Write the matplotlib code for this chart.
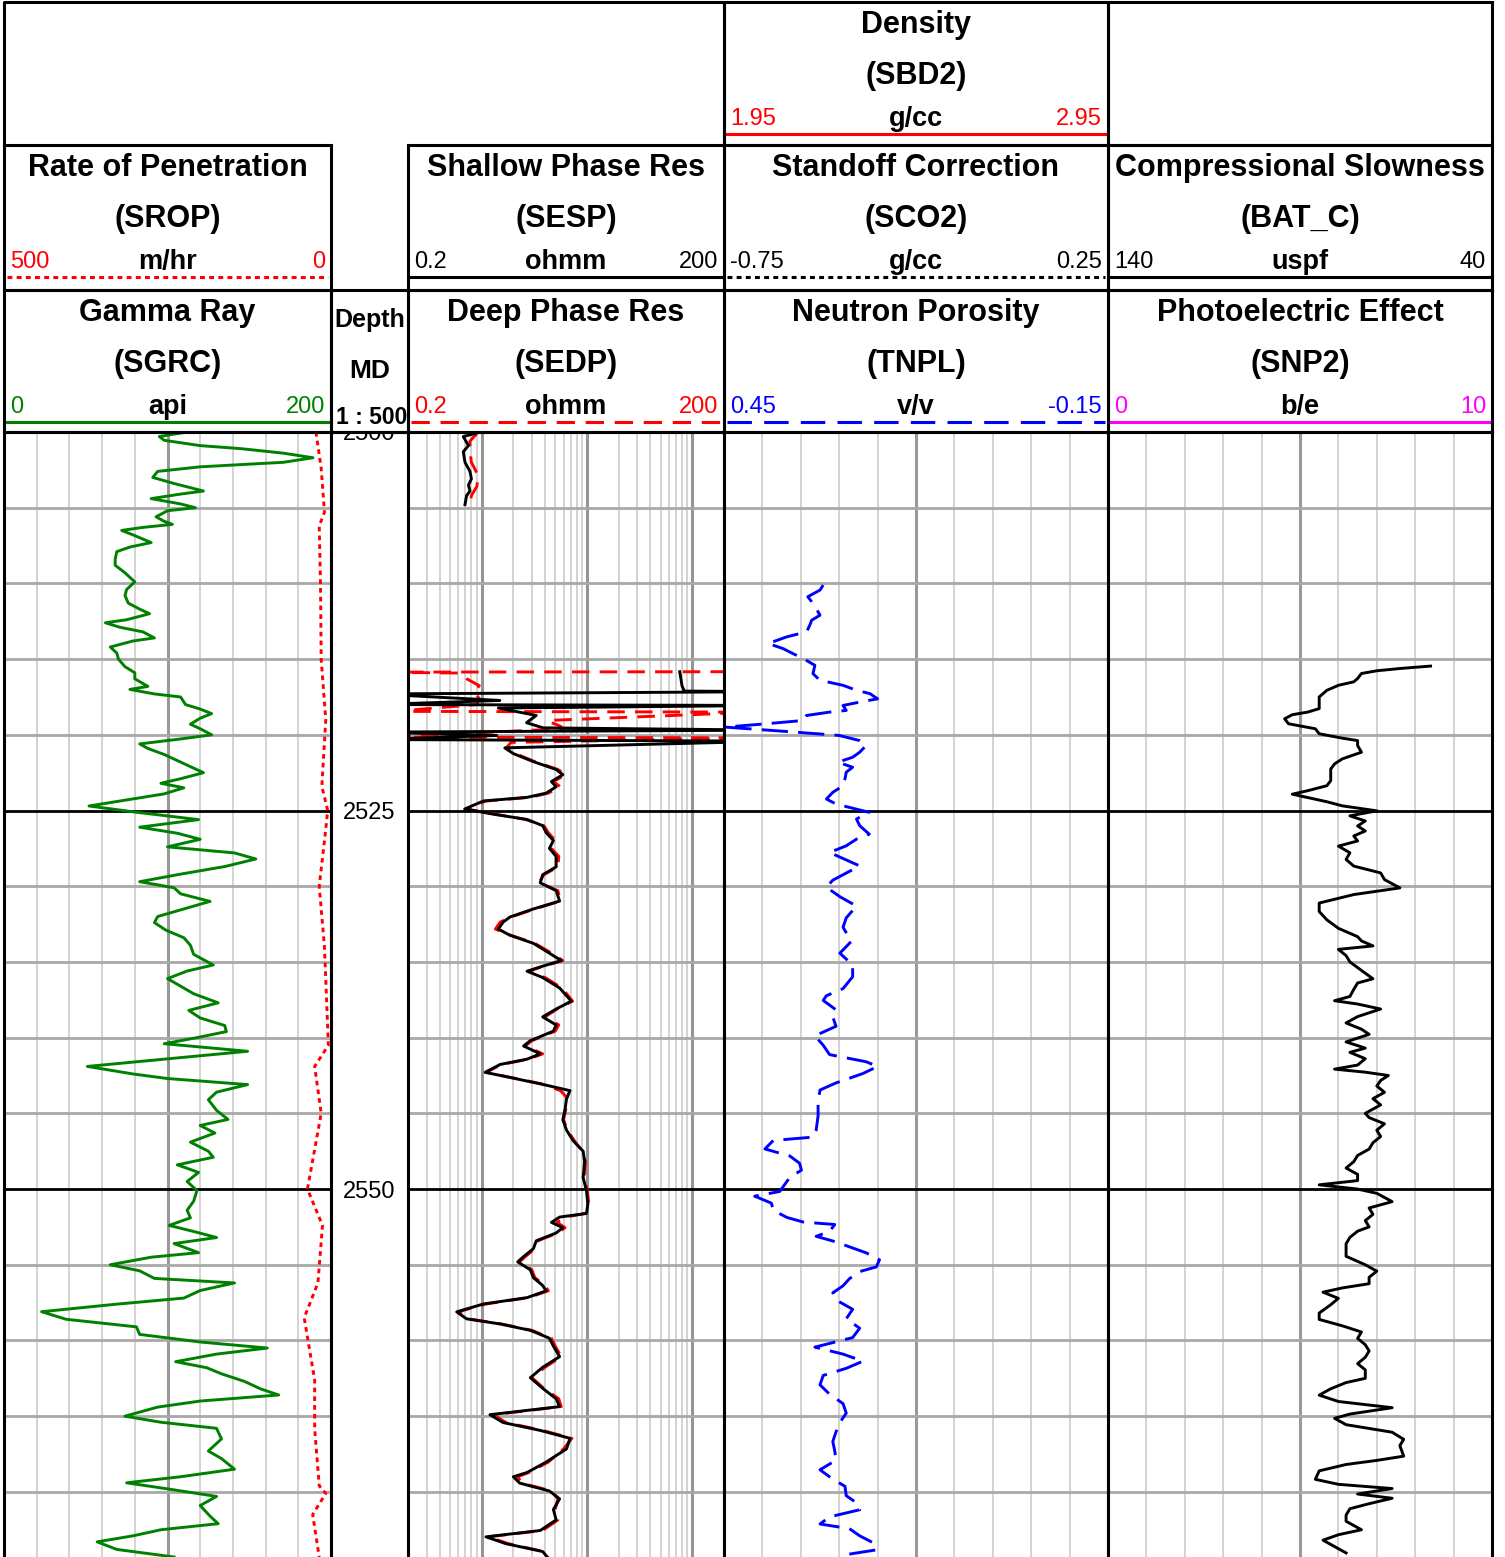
import matplotlib.pyplot as plt
from matplotlib.patches import Rectangle
from matplotlib.transforms import blended_transform_factory

plt.rcParams['font.family'] = ['Liberation Sans', 'DejaVu Sans']

# ---- curves (depth in m MD) ----
gr_depth = [2500.0, 2500.3, 2500.55, 2500.9, 2501.1, 2501.4, 2501.7, 2502.0, 2502.3, 2502.6,
            2503.0, 2503.4, 2503.9, 2504.1, 2504.4, 2504.75, 2505.0, 2505.2, 2505.6, 2505.9,
            2506.1, 2506.3, 2506.5, 2506.8, 2507.3, 2507.6, 2507.9, 2508.4, 2508.8, 2509.3,
            2509.9, 2510.4, 2510.8, 2511.3, 2511.7, 2512.0, 2512.4, 2512.6, 2512.9, 2513.2,
            2513.6, 2513.8, 2514.2, 2514.6, 2515.0, 2515.5, 2515.9, 2516.3, 2516.8, 2517.0,
            2517.3, 2517.5, 2518.0, 2518.3, 2518.6, 2518.9, 2519.3, 2519.6, 2520.0, 2520.3,
            2520.6, 2520.9, 2521.3, 2521.6, 2522.1, 2522.5, 2522.9, 2523.2, 2523.5, 2523.9,
            2524.3, 2524.7, 2525.1, 2525.6, 2526.1, 2526.5, 2526.9, 2527.4, 2527.8, 2528.2,
            2528.7, 2529.2, 2529.7, 2530.1, 2530.5, 2531.0, 2531.5, 2532.0, 2532.4, 2532.9,
            2533.4, 2533.9, 2534.5, 2535.2, 2535.6, 2536.1, 2536.6, 2537.1, 2537.7, 2538.2,
            2538.7, 2539.2, 2539.6, 2540.0, 2540.4, 2540.9, 2541.4, 2541.9, 2542.4, 2542.7,
            2543.1, 2543.6, 2544.1, 2544.8, 2545.4, 2545.8, 2546.3, 2546.9, 2547.5, 2547.9,
            2548.4, 2548.9, 2549.5, 2550.1, 2550.8, 2551.4, 2551.9, 2552.4, 2552.8, 2553.2,
            2553.6, 2554.2, 2554.5, 2555.0, 2555.4, 2555.9, 2556.2, 2556.7, 2557.2, 2557.6,
            2558.1, 2558.6, 2559.1, 2559.6, 2560.1, 2560.5, 2560.9, 2561.4, 2561.8, 2562.2,
            2562.7, 2563.2, 2563.6, 2564.0, 2564.4, 2565.0, 2565.4, 2565.8, 2566.5, 2567.3,
            2567.8, 2568.5, 2569.0, 2569.4, 2569.8, 2570.3, 2570.9, 2571.6, 2572.1, 2572.5,
            2572.9, 2573.3, 2573.8, 2574.3]
gr_api = [112, 95, 98, 120, 145, 171, 189, 171, 120, 94,
          91, 104, 122, 108, 90, 108, 117, 100, 93, 98,
          103, 85, 72, 79, 90, 77, 69, 68, 68, 74,
          80, 75, 74, 76, 83, 89, 75, 62, 71, 85,
          92, 79, 65, 69, 70, 74, 80, 80, 88, 77,
          92, 108, 111, 120, 127, 120, 114, 120, 127, 106,
          83, 88, 98, 104, 114, 122, 108, 96, 110, 98,
          75, 52, 80, 119, 83, 106, 120, 100, 141, 154,
          135, 108, 83, 104, 108, 126, 110, 94, 92, 99,
          110, 114, 116, 128, 112, 100, 108, 116, 131, 113,
          120, 135, 136, 118, 98, 149, 100, 51, 79, 100,
          149, 130, 125, 130, 137, 120, 129, 114, 125, 128,
          106, 119, 112, 118, 116, 112, 114, 101, 116, 130,
          104, 119, 90, 65, 83, 92, 141, 120, 110, 69,
          23, 38, 81, 83, 120, 161, 130, 105, 124, 133,
          147, 157, 168, 120, 94, 74, 96, 130, 133, 125,
          133, 141, 108, 75, 100, 130, 120, 126, 131, 96,
          79, 57, 69, 104]

rop_depth = [2500.0, 2502.4, 2505.3, 2506.2, 2510.2, 2515.0, 2519.0, 2521.2, 2523.4, 2525.0,
             2527.0, 2530.0, 2534.0, 2540.5, 2541.9, 2545.0, 2550.0, 2552.4, 2556.2, 2558.5,
             2562.6, 2565.8, 2569.6, 2570.1, 2571.5, 2574.3]
rop_mhr = [23, 15, 10, 18, 16, 15, 8, 11, 14, 5,
           10, 18, 10, 4, 25, 15, 36, 13, 20, 41,
           25, 25, 18, 8, 28, 18]

# resistivity: short top run, a spiky zone, then the main run on a shared depth list
sesp_top_depth = [2500.1, 2500.3, 2500.9, 2501.3, 2502.0, 2502.6, 2503.1, 2503.5, 2503.9, 2504.2, 2504.8]
sesp_top = [0.865, 0.67, 0.75, 0.67, 0.695, 0.775, 0.80, 0.75, 0.775, 0.72, 0.695]
sedp_top_depth = [2500.0, 2500.6, 2501.3, 2502.0, 2502.9, 2503.6, 2504.2, 2504.8]
sedp_top = [0.93, 0.775, 0.775, 0.80, 0.93, 0.90, 0.80, 0.775]

sesp_spike_depth = [2515.83, 2516.78, 2517.11, 2517.15, 2517.3, 2517.73, 2518.0, 2518.06, 2518.23,
                    2518.72, 2519.2, 2519.54, 2519.69, 2519.82, 2520.04, 2520.31, 2520.42, 2520.86]
sesp_spike = [76, 80, 84, 600, 0.1, 1.49, 0.1, 600, 1.44,
              3.3, 2.67, 3.84, 600, 0.1, 1.39, 0.1, 600, 1.66]
sedp_spike_depth = [2515.83, 2515.86, 2515.92, 2516.3, 2516.75, 2517.2, 2517.6, 2518.0, 2518.45,
                    2518.5, 2519.05, 2519.2, 2519.4, 2519.6, 2520.15, 2520.2, 2520.5, 2520.9]
sedp_spike = [400, 0.1, 0.6, 0.72, 0.95, 0.85, 0.95, 0.9, 0.15,
              400, 4.3, 4.6, 5.5, 6.0, 0.12, 400, 1.9, 1.7]

res_depth = [2521.24, 2521.77, 2522.29, 2522.63, 2523.09, 2523.43, 2523.85, 2524.13, 2524.37, 2524.9,
             2525.24, 2525.59, 2526.0, 2526.46, 2526.98, 2527.5, 2528.03, 2528.72, 2529.24, 2529.77,
             2530.29, 2530.98, 2531.5, 2532.03, 2532.37, 2532.83, 2533.24, 2533.77, 2534.29, 2534.91,
             2535.33, 2535.61, 2536.03, 2536.72, 2537.59, 2538.11, 2538.63, 2539.16, 2539.57, 2540.2,
             2540.55, 2541.07, 2541.42, 2541.77, 2542.29, 2542.63, 2543.05, 2543.5, 2544.03, 2544.72,
             2545.42, 2546.11, 2546.81, 2547.5, 2548.2, 2549.24, 2550.11, 2550.98, 2551.61, 2551.85,
             2552.2, 2552.55, 2552.9, 2553.42, 2553.94, 2554.46, 2554.81, 2555.33, 2555.85, 2556.37,
             2556.72, 2557.17, 2557.59, 2558.11, 2558.57, 2558.91, 2559.33, 2559.85, 2560.37, 2561.07,
             2561.77, 2562.46, 2563.16, 2563.85, 2564.37, 2564.9, 2565.42, 2565.94, 2566.46, 2567.16,
             2568.03, 2568.72, 2569.0, 2569.42, 2569.94, 2570.46, 2571.16, 2571.85, 2572.55, 2572.97,
             2573.42, 2573.94, 2574.3]
sesp_ohmm = [2.0, 3.1, 5.1, 5.9, 4.6, 5.1, 4.1, 2.7, 1.04, 0.69,
             1.29, 2.7, 3.8, 4.1, 4.8, 4.4, 5.1, 5.1, 3.8, 3.6,
             5.1, 5.5, 3.1, 1.86, 1.6, 1.44, 1.86, 3.1, 4.1, 5.7,
             3.6, 2.7, 3.8, 5.5, 7.1, 5.1, 3.8, 5.1, 4.8, 2.9,
             2.5, 3.6, 2.7, 1.5, 1.08, 1.86, 3.6, 6.9, 6.4, 6.2,
             5.9, 6.4, 7.4, 9.2, 9.5, 9.2, 9.9, 10.2, 9.9, 5.5,
             4.6, 5.9, 5.1, 3.3, 3.1, 2.5, 2.2, 2.9, 3.1, 3.8,
             4.1, 2.7, 1.04, 0.58, 0.72, 1.5, 2.9, 4.4, 4.8, 5.5,
             3.8, 2.9, 3.8, 5.1, 5.5, 1.2, 1.6, 3.6, 6.9, 6.4,
             4.1, 2.7, 2.0, 2.3, 4.4, 5.5, 4.8, 5.1, 3.6, 1.1,
             1.7, 3.8, 4.2]
sedp_ohmm = [2.1, 3.2, 5.3, 6.3, 4.8, 5.6, 4.3, 2.9, 1.1, 0.72,
             1.35, 2.6, 3.9, 4.3, 5.0, 4.6, 5.4, 5.3, 3.9, 3.5,
             5.3, 5.6, 3.2, 1.9, 1.5, 1.35, 1.9, 3.2, 4.3, 5.9,
             3.7, 2.8, 4.0, 5.8, 7.3, 5.2, 4.0, 5.4, 5.0, 3.0,
             2.6, 3.8, 2.8, 1.55, 1.1, 1.9, 3.7, 5.6, 6.6, 6.3,
             6.0, 6.5, 7.6, 9.0, 9.7, 9.4, 10.1, 10.4, 9.6, 6.3,
             5.2, 6.2, 5.3, 3.4, 3.2, 2.6, 2.3, 3.0, 3.2, 4.0,
             4.3, 2.8, 1.1, 0.6, 0.75, 1.55, 3.0, 4.6, 5.0, 5.7,
             4.0, 3.0, 3.9, 5.4, 5.7, 1.3, 1.7, 3.8, 7.2, 6.0,
             4.3, 2.8, 2.2, 2.4, 4.6, 5.3, 5.0, 5.3, 3.8, 1.15,
             1.8, 3.9, 4.1]

tnpl_depth = [2510.11, 2510.44, 2510.88, 2511.21, 2511.66, 2512.1, 2512.43, 2512.76, 2513.2, 2513.53,
              2513.97, 2514.3, 2514.64, 2514.97, 2515.41, 2515.96, 2516.4, 2516.73, 2517.06, 2517.28,
              2517.62, 2517.84, 2518.06, 2518.39, 2518.5, 2518.72, 2519.05, 2519.27, 2519.49, 2519.78,
              2520.04, 2520.38, 2520.71, 2521.15, 2521.48, 2521.81, 2522.14, 2522.47, 2522.91, 2523.36,
              2523.8, 2524.24, 2524.57, 2525.12, 2525.56, 2526.0, 2526.56, 2526.89, 2527.33, 2527.77,
              2528.66, 2529.13, 2529.6, 2530.06, 2530.69, 2531.31, 2532.09, 2532.71, 2533.64, 2534.42,
              2535.2, 2535.98, 2536.76, 2537.23, 2537.54, 2538.16, 2538.63, 2539.25, 2539.88, 2540.5,
              2541.12, 2541.59, 2541.9, 2542.37, 2542.68, 2542.99, 2543.46, 2544.24, 2545.17, 2546.11,
              2546.57, 2546.79, 2547.35, 2547.82, 2548.29, 2548.75, 2549.22, 2549.69, 2550.16, 2550.47,
              2550.93, 2551.4, 2551.87, 2552.18, 2552.34, 2552.8, 2553.12, 2553.43, 2553.74, 2554.21,
              2554.67, 2555.14, 2555.45, 2555.92, 2556.39, 2556.85, 2557.32, 2557.94, 2558.57, 2559.19,
              2559.81, 2560.44, 2560.9, 2561.37, 2561.84, 2562.31, 2562.93, 2563.55, 2564.17, 2564.8,
              2565.42, 2566.04, 2566.67, 2567.29, 2567.91, 2568.54, 2569.16, 2569.63, 2570.25, 2570.72,
              2571.18, 2571.65, 2572.12, 2572.43, 2572.9, 2573.36, 2573.83, 2574.14]
tnpl_vv = [0.295, 0.30, 0.319, 0.313, 0.306, 0.30, 0.313, 0.316, 0.321, 0.352,
           0.381, 0.358, 0.342, 0.326, 0.308, 0.311, 0.30, 0.264, 0.243, 0.222,
           0.21, 0.238, 0.264, 0.259, 0.285, 0.321, 0.326, 0.384, 0.448, 0.352,
           0.27, 0.238, 0.228, 0.238, 0.249, 0.272, 0.249, 0.259, 0.261, 0.264,
           0.28, 0.29, 0.275, 0.223, 0.243, 0.238, 0.223, 0.243, 0.259, 0.285,
           0.238, 0.259, 0.28, 0.29, 0.269, 0.243, 0.259, 0.264, 0.251, 0.269,
           0.249, 0.249, 0.264, 0.29, 0.295, 0.275, 0.28, 0.275, 0.308, 0.295,
           0.285, 0.228, 0.21, 0.233, 0.254, 0.275, 0.30, 0.303, 0.303, 0.306,
           0.311, 0.373, 0.386, 0.347, 0.332, 0.329, 0.347, 0.355, 0.363, 0.402,
           0.376, 0.373, 0.352, 0.326, 0.277, 0.285, 0.306, 0.28, 0.259, 0.228,
           0.207, 0.212, 0.238, 0.254, 0.264, 0.28, 0.275, 0.249, 0.259, 0.238,
           0.249, 0.308, 0.264, 0.233, 0.259, 0.295, 0.30, 0.285, 0.264, 0.259,
           0.269, 0.275, 0.28, 0.277, 0.275, 0.30, 0.28, 0.261, 0.259, 0.243,
           0.238, 0.285, 0.30, 0.254, 0.238, 0.217, 0.212, 0.259]

pe_depth = [2515.46, 2515.62, 2515.77, 2515.95, 2516.28, 2516.5, 2516.73, 2517.06, 2517.5, 2517.94,
            2518.27, 2518.5, 2518.67, 2518.94, 2519.27, 2519.6, 2519.93, 2520.22, 2520.38, 2520.71,
            2521.15, 2521.59, 2521.92, 2522.26, 2522.7, 2523.03, 2523.36, 2523.69, 2523.92, 2524.14,
            2524.42, 2524.69, 2525.02, 2525.35, 2525.69, 2526.02, 2526.35, 2526.68, 2527.01, 2527.35,
            2527.79, 2528.23, 2528.67, 2529.12, 2529.56, 2530.11, 2530.55,
            2531.11, 2531.67, 2532.22, 2532.78, 2533.33, 2533.61, 2533.94, 2534.17, 2534.58, 2535.0,
            2535.56, 2536.11, 2536.39, 2536.81, 2537.28, 2537.56, 2537.78, 2538.11, 2538.61, 2539.03,
            2539.44, 2539.78, 2540.28, 2540.69, 2540.97, 2541.39, 2541.81, 2542.08, 2542.28, 2542.5,
            2542.83, 2543.19, 2543.61, 2544.03, 2544.44, 2545.0, 2545.28, 2545.69, 2546.11, 2546.53,
            2546.94, 2547.36, 2547.78, 2548.19, 2548.61, 2549.03, 2549.44, 2549.72, 2550.0, 2550.28,
            2550.83, 2551.25, 2551.67, 2552.08, 2552.5, 2552.78, 2553.19, 2553.61, 2554.03, 2554.44,
            2555.0, 2555.42, 2555.83, 2556.25, 2556.53, 2556.81, 2557.22, 2557.64, 2558.19, 2558.61,
            2559.03, 2559.44, 2559.86, 2560.28, 2560.69, 2561.11, 2561.53, 2561.94, 2562.5, 2562.78,
            2563.19, 2563.61, 2564.03, 2564.44, 2564.86, 2565.14, 2565.56, 2566.06, 2566.53, 2566.94,
            2567.64, 2567.92, 2568.19, 2568.61, 2569.17, 2569.5, 2569.78, 2570.14, 2570.42, 2570.78,
            2571.11, 2571.53, 2571.94, 2572.5, 2572.83, 2573.19, 2573.61, 2574.03]
pe_be = [8.4, 7.6, 7.0, 6.6, 6.5, 6.4, 6.0, 5.7, 5.5, 5.5,
         5.5, 5.2, 4.8, 4.6, 4.7, 5.4, 5.5, 6.1, 6.5, 6.5,
         6.6, 6.1, 5.9, 5.8, 5.8, 5.8, 5.7, 5.2, 4.8, 5.2,
         5.7, 6.1, 7.0, 6.3, 6.7, 6.5, 6.7, 6.4, 6.5, 6.0,
         6.3, 6.2, 6.4, 7.1, 7.2, 7.6, 6.4,
         5.5, 5.5, 5.7, 6.0, 6.5, 6.6, 6.9, 6.0, 6.2, 6.3,
         6.6, 6.9, 6.5, 6.4, 6.3, 5.9, 6.5, 7.1, 6.5, 6.2,
         6.6, 6.8, 6.2, 6.7, 6.3, 6.7, 6.5, 5.9, 6.7, 7.3,
         7.1, 7.0, 7.2, 6.9, 7.1, 6.7, 6.8, 7.2, 7.0, 7.1,
         6.9, 6.8, 6.5, 6.4, 6.2, 6.5, 6.5, 5.5, 6.5, 7.0,
         7.4, 6.8, 6.9, 6.7, 6.8, 6.5, 6.3, 6.2, 6.2, 6.2,
         6.7, 7.0, 6.8, 6.8, 6.1, 5.6, 6.0, 5.8, 5.5, 5.5,
         6.1, 6.6, 6.5, 6.7, 6.8, 6.7, 6.5, 6.7, 6.7, 6.2,
         5.8, 5.5, 6.0, 7.4, 6.3, 5.9, 6.2, 7.4, 7.7, 7.6,
         7.7, 7.0, 6.2, 5.5, 5.4, 6.0, 7.4, 6.5, 7.4, 6.8,
         6.3, 6.2, 6.2, 6.6, 6.0, 5.6, 5.9, 6.2]

depth_labels = [2500, 2525, 2550]

# header cells: x-range, row top, title, mnemonic, left/unit/right scale, label colour, line colour, line style
headers = [
    (724, 1108, 2, 'Density', '(SBD2)', '1.95', 'g/cc', '2.95', 'red', 'red', '-'),
    (4, 331, 145, 'Rate of Penetration', '(SROP)', '500', 'm/hr', '0', 'red', 'red', (0, (1.6, 1.4))),
    (408, 724, 145, 'Shallow Phase Res', '(SESP)', '0.2', 'ohmm', '200', 'black', 'black', '-'),
    (724, 1108, 145, 'Standoff Correction', '(SCO2)', '-0.75', 'g/cc', '0.25', 'black', 'black', (0, (1.6, 1.4))),
    (1108, 1492, 145, 'Compressional Slowness', '(BAT_C)', '140', 'uspf', '40', 'black', 'black', '-'),
    (4, 331, 290, 'Gamma Ray', '(SGRC)', '0', 'api', '200', 'green', 'green', '-'),
    (408, 724, 290, 'Deep Phase Res', '(SEDP)', '0.2', 'ohmm', '200', 'red', 'red', (0, (6, 3.5))),
    (724, 1108, 290, 'Neutron Porosity', '(TNPL)', '0.45', 'v/v', '-0.15', 'blue', 'blue', (0, (8, 4))),
    (1108, 1492, 290, 'Photoelectric Effect', '(SNP2)', '0', 'b/e', '10', 'magenta', 'magenta', '-'),
]

W, H = 1505, 1557
Y_DATA = 432
D_TOP, D_BOT = 2500.0, 2574.3

fig = plt.figure(figsize=(W / 100, H / 100), dpi=100)


def make_track(x0, x1, lo=0.0, hi=1.0, log=False, grid=True):
    ax = fig.add_axes([x0 / W, 0, (x1 - x0) / W, (H - Y_DATA) / H])
    if log:
        ax.set_xscale('log')
    ax.set_xlim(lo, hi)
    ax.set_ylim(D_BOT, D_TOP)
    ax.tick_params(which='both', length=0, labelbottom=False, labelleft=False)
    for s in ax.spines.values():
        s.set_linewidth(2.2)
        s.set_zorder(5)
    ax.spines['bottom'].set_visible(False)
    if not grid:
        return ax
    if log:
        for dec in (0.1, 1, 10, 100):
            for m in range(1, 10):
                v = m * dec
                if lo < v < hi:
                    major = m == 1
                    ax.axvline(v, color='#959595' if major else '#c8c8c8',
                               lw=2.2 if major else 1.1, zorder=0)
    else:
        for i in range(1, 10):
            v = lo + (hi - lo) * i / 10
            ax.axvline(v, color='#999999' if i == 5 else '#c8c8c8',
                       lw=2.2 if i == 5 else 1.1, zorder=0)
    for d in range(2505, 2575, 5):
        ax.axhline(d, color='black' if d % 25 == 0 else '#a8a8a8', lw=2, zorder=0.5)
    return ax


# track 1: gamma ray + ROP
ax_gr = make_track(4, 331, 0, 200)
ax_gr.plot(gr_api, gr_depth, color='#008000', lw=2.1, solid_joinstyle='round')
ax_rop = ax_gr.twiny()
ax_rop.set_xlim(500, 0)
ax_rop.set_ylim(D_BOT, D_TOP)
ax_rop.tick_params(which='both', length=0, labeltop=False, labelbottom=False)
ax_rop.spines['bottom'].set_visible(False)
ax_rop.plot(rop_mhr, rop_depth, color='red', lw=2.1, linestyle=(0, (1.6, 1.4)))

# depth track
ax_dep = make_track(331, 408, grid=False)
trans = blended_transform_factory(ax_dep.transAxes, ax_dep.transData)
for d in depth_labels:
    ax_dep.text(0.5, d, str(d), transform=trans, ha='center', va='center_baseline',
                fontsize=17, clip_on=True)

# track 2: resistivity (log)
ax_res = make_track(408, 724, 0.2, 200, log=True)
dash_red = dict(color='red', lw=2.1, linestyle=(0, (6, 3.5)))
ax_res.plot(sedp_top, sedp_top_depth, **dash_red)
ax_res.plot(sedp_spike + sedp_ohmm, sedp_spike_depth + res_depth, **dash_red)
ax_res.plot(sesp_top, sesp_top_depth, color='black', lw=2.1, solid_joinstyle='round')
ax_res.plot(sesp_spike + sesp_ohmm, sesp_spike_depth + res_depth, color='black', lw=2.1,
            solid_joinstyle='round')

# track 3: neutron
ax_nd = make_track(724, 1108, 0.45, -0.15)
ax_nd.plot(tnpl_vv, tnpl_depth, color='blue', lw=2.1, linestyle=(0, (9, 3.5)))

# track 4: PE
ax_pe = make_track(1108, 1492, 0, 10)
ax_pe.plot(pe_be, pe_depth, color='black', lw=2.1, solid_joinstyle='round')

# ---- header ----
hdr = fig.add_axes([0, 0, 1, 1], zorder=10)
hdr.set_xlim(0, W)
hdr.set_ylim(H, 0)
hdr.axis('off')

hdr.plot([4, 4, 724, 724], [145, 2, 2, 145], color='black', lw=2.2)
boxes = [(724, 2, 1108, 145), (1108, 2, 1492, 145),
         (4, 145, 331, 290), (408, 145, 724, 290), (724, 145, 1108, 290), (1108, 145, 1492, 290),
         (4, 290, 331, 432), (331, 290, 408, 432), (408, 290, 724, 432), (724, 290, 1108, 432),
         (1108, 290, 1492, 432)]
for x0, y0, x1, y1 in boxes:
    hdr.add_patch(Rectangle((x0, y0), x1 - x0, y1 - y0, fill=False, ec='black', lw=2.2))

for x0, x1, top, title, mnem, left, unit, right, lc, linec, ls in headers:
    xc = (x0 + x1) / 2
    hdr.text(xc, top + 31, title, ha='center', va='baseline', fontsize=22, fontweight='bold')
    hdr.text(xc, top + 82, mnem, ha='center', va='baseline', fontsize=22, fontweight='bold')
    hdr.text(x0 + 6, top + 123, left, ha='left', va='baseline', fontsize=17, color=lc)
    hdr.text(x1 - 6, top + 123, right, ha='right', va='baseline', fontsize=17, color=lc)
    hdr.text(xc, top + 124, unit, ha='center', va='baseline', fontsize=19.5, fontweight='bold')
    hdr.plot([x0 + 3, x1 - 3], [top + 132, top + 132], color=linec, lw=2.2, linestyle=ls)

hdr.text(369.5, 327, 'Depth', ha='center', va='baseline', fontsize=18, fontweight='bold')
hdr.text(369.5, 378, 'MD', ha='center', va='baseline', fontsize=19, fontweight='bold')
hdr.text(372, 424, '1 : 500', ha='center', va='baseline', fontsize=16.5, fontweight='bold')

fig.savefig('out.png', dpi=100)
